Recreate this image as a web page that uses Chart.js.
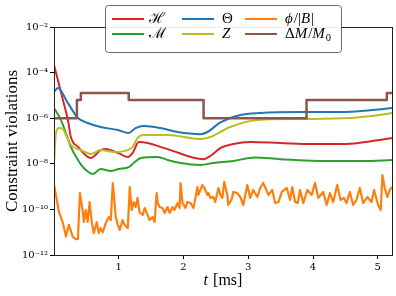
<!DOCTYPE html>
<html><head><meta charset="utf-8">
<script src="https://cdn.jsdelivr.net/npm/chart.js@4.4.1/dist/chart.umd.min.js"></script>
<style>html,body{margin:0;padding:0;background:#fff;}canvas{display:block;}</style>
</head><body>
<canvas id="c" width="396" height="296"></canvas>
<script>
// ---- data ----
const seriesNames = ['ℋ', 'ℳ', 'Θ', 'Z', 'ϕ/|B|', 'ΔM/M₀'];
const yTickValues = [1e-12, 1e-10, 1e-8, 1e-6, 1e-4, 1e-2];
const xTickValues = [1, 2, 3, 4, 5];

const tH = [0, 0.06, 0.138, 0.215, 0.26, 0.37, 0.57, 0.72, 0.80, 0.985, 1.14, 1.215, 1.31, 1.446, 1.646, 1.846, 2.06, 2.31, 2.415, 2.57, 2.77, 3.03, 3.49, 4.0, 4.52, 4.92, 5.22];
const vH = [2.2e-4, 4.7e-5, 6.3e-6, 8.3e-7, 1.5e-7, 5.5e-8, 1.8e-8, 4.0e-8, 4.5e-8, 3.0e-8, 2.0e-8, 3.0e-8, 9.0e-8, 8.2e-8, 5.5e-8, 3.6e-8, 2.2e-8, 1.6e-8, 2.2e-8, 4.9e-8, 7.4e-8, 9.0e-8, 8.2e-8, 7.4e-8, 7.4e-8, 1.0e-7, 1.35e-7];

const tM = [0, 0.108, 0.185, 0.26, 0.37, 0.46, 0.6, 0.72, 0.877, 1.0, 1.154, 1.23, 1.34, 1.6, 1.754, 1.954, 2.26, 2.46, 2.77, 3.1, 3.49, 4.26, 4.77, 5.22];
const vM = [2.8e-6, 8.3e-7, 2.2e-7, 5.5e-8, 1.47e-8, 6.5e-9, 3.6e-9, 5.9e-9, 4.8e-9, 5.9e-9, 7.2e-9, 1.08e-8, 1.8e-8, 2.0e-8, 1.47e-8, 1.08e-8, 8.9e-9, 1.08e-8, 1.33e-8, 1.9e-8, 1.6e-8, 1.33e-8, 1.33e-8, 1.47e-8];

const tTheta = [0, 0.06, 0.215, 0.37, 0.52, 0.72, 0.985, 1.154, 1.26, 1.385, 1.646, 1.908, 2.26, 2.37, 2.57, 2.877, 3.185, 3.8, 4.415, 4.92, 5.22];
const vTheta = [1.41e-5, 2.1e-5, 4.6e-6, 1.02e-6, 6.15e-7, 4.1e-7, 3.03e-7, 2.24e-7, 3.7e-7, 4.55e-7, 3.7e-7, 2.48e-7, 2.0e-7, 2.48e-7, 6.5e-7, 1.38e-6, 1.69e-6, 1.87e-6, 1.87e-6, 2.29e-6, 2.8e-6];

const tZ = [0, 0.03, 0.077, 0.138, 0.185, 0.26, 0.415, 0.57, 0.72, 0.923, 1.14, 1.215, 1.29, 1.385, 1.754, 2.26, 2.415, 2.72, 3.14, 3.8, 4.57, 5.03, 5.22];
const vZ = [1.0e-8, 2.24e-7, 3.7e-7, 3.36e-7, 1.83e-7, 6.7e-8, 4.0e-8, 2.7e-8, 4.0e-8, 3.3e-8, 4.0e-8, 5.5e-8, 1.35e-7, 1.83e-7, 1.83e-7, 1.22e-7, 1.5e-7, 4.1e-7, 8.3e-7, 9.2e-7, 1.02e-6, 1.38e-6, 1.69e-6];

const tPhi = [0, 0.077, 0.138, 0.185, 0.23, 0.29, 0.338, 0.37, 0.40, 0.446,
  0.46, 0.49, 0.52, 0.55, 0.585, 0.615, 0.66, 0.69, 0.72, 0.754,
  0.80, 0.846, 0.877, 0.908, 0.923, 0.954, 0.985, 1.015, 1.06, 1.09,
  1.14, 1.17, 1.2, 1.23, 1.26, 1.29, 1.32, 1.37, 1.4, 1.446,
  1.477, 1.523, 1.554, 1.585, 1.6, 1.63, 1.677, 1.708, 1.754, 1.785,
  1.83, 1.86, 1.908, 1.94, 1.954, 1.985, 2.03, 2.06, 2.108, 2.154,
  2.185, 2.215, 2.23, 2.29, 2.323, 2.37, 2.385, 2.415, 2.46, 2.49,
  2.54, 2.57, 2.6, 2.63, 2.677, 2.69, 2.74, 2.77, 2.83, 2.877,
  2.923, 2.985, 3.03, 3.077, 3.14, 3.185, 3.23, 3.26, 3.31, 3.37,
  3.415, 3.466, 3.518, 3.595, 3.646, 3.68, 3.723, 3.765, 3.8, 3.851,
  3.912, 3.98, 4.031, 4.082, 4.158, 4.211, 4.262, 4.312, 4.374, 4.426,
  4.477, 4.518, 4.569, 4.62, 4.672, 4.723, 4.774, 4.842, 4.903, 4.943,
  5.005, 5.046, 5.072, 5.108, 5.149, 5.185, 5.22];
const vPhi = [1.2e-9, 7.7e-11, 2.5e-11, 6.5e-12, 2.1e-11, 6.2e-12, 5.0e-12, 5.0e-12, 5.2e-10, 7.7e-11,
  2.8e-11, 9.4e-11, 2.8e-11, 2.1e-10, 2.5e-11, 9.2e-12, 2.8e-11, 9.2e-12, 1.5e-11, 1.0e-11,
  2.5e-11, 4.6e-11, 3.4e-11, 1.44e-9, 5.2e-10, 4.6e-11, 2.1e-11, 1.25e-11, 3.4e-11, 2.1e-11,
  1.5e-11, 9.6e-10, 9.4e-11, 2.1e-10, 1.27e-10, 3.2e-10, 7.7e-11, 5.7e-11, 1.15e-10, 5.7e-11,
  3.4e-11, 4.6e-11, 2.8e-11, 5.2e-10, 2.1e-10, 1.27e-10, 1.15e-10, 7.0e-11, 1.27e-10, 7.0e-11,
  1.27e-10, 9.4e-11, 1.9e-10, 1.15e-10, 1.44e-9, 1.9e-10, 1.15e-10, 2.1e-10, 1.9e-10, 1.15e-10,
  3.2e-10, 9.6e-10, 4.3e-10, 1.17e-9, 8.7e-10, 4.3e-10, 5.2e-10, 3.2e-10, 3.5e-10, 2.1e-10,
  8.7e-10, 4.3e-10, 3.2e-10, 1.6e-9, 4.3e-10, 1.56e-10, 2.6e-10, 5.8e-10, 5.2e-10, 3.5e-10,
  1.56e-10, 1.17e-9, 3.2e-10, 7.1e-10, 3.5e-10, 8.7e-10, 1.44e-9, 9.6e-10, 4.3e-10, 7.1e-10,
  1.9e-10, 2.1e-10, 5.8e-10, 8.7e-10, 2.6e-10, 9.6e-10, 2.1e-10, 1.9e-10, 7.1e-10, 1.9e-10,
  7.1e-10, 4.3e-10, 1.44e-9, 3.2e-10, 5.8e-10, 1.56e-10, 5.2e-10, 2.1e-10, 1.17e-9, 2.6e-10,
  3.2e-10, 1.9e-10, 5.8e-10, 1.56e-10, 2.6e-10, 8.7e-10, 1.9e-10, 3.5e-10, 2.1e-10, 7.1e-10,
  1.56e-10, 9.4e-11, 3.2e-9, 8.7e-10, 3.5e-10, 7.1e-10, 9.6e-10];

const tDM = [0, 0.354, 0.415, 1.154, 2.31, 3.90, 5.14, 5.22];
const vDM = [1.0e-6, 6.3e-6, 1.27e-5, 6.3e-6, 1.0e-6, 6.3e-6, 1.27e-5, 1.27e-5];

// ---- helpers ----
const pts = (ts, vs) => ts.map((t, i) => ({x: t, y: vs[i]}));
const SUP = {'0':'⁰','1':'¹','2':'²','3':'³','4':'⁴','5':'⁵','6':'⁶','7':'⁷','8':'⁸','9':'⁹','-':'⁻'};
const powLabel = v => '10' + String(Math.round(Math.log10(v))).split('').map(c => SUP[c]).join('');

const COLORS = ['#d62728', '#2ca02c', '#1f77b4', '#bcbd22', '#ff7f0e', '#8c564b'];
const SERIF = '"Liberation Serif", "DejaVu Serif", serif';

// rich legend labels (segments: text, italic, subscript)
const legendRich = [
  [{t:'ℋ'}],
  [{t:'ℳ'}],
  [{t:'Θ'}],
  [{t:'Z', it:1}],
  [{t:'ϕ', it:1}, {t:'/|'}, {t:'B', it:1}, {t:'|'}],
  [{t:'Δ'}, {t:'M', it:1}, {t:'/'}, {t:'M', it:1}, {t:'0', sub:1}]
];

function drawRich(ctx, segs, x, y, size) {
  let cx = x;
  ctx.textBaseline = 'middle';
  ctx.textAlign = 'left';
  for (const s of segs) {
    const fs = s.sub ? size * 0.7 : size;
    ctx.font = (s.it ? 'italic ' : '') + fs + 'px ' + SERIF;
    ctx.fillText(s.t, cx, y + (s.sub ? size * 0.28 : 0));
    cx += ctx.measureText(s.t).width + (s.it ? 1 : 0);
  }
}

const decorPlugin = {
  id: 'decor',
  afterDatasetsDraw(chart) {
    const {ctx, chartArea: a} = chart;
    ctx.save();
    ctx.strokeStyle = '#222';
    ctx.lineWidth = 1;
    ctx.strokeRect(a.left + 0.5, a.top + 0.5, a.right - a.left, a.bottom - a.top);
    ctx.restore();
  },
  afterDraw(chart) {
    const {ctx, chartArea: a} = chart;
    ctx.save();
    // legend box
    ctx.beginPath();
    ctx.roundRect(105.5, 5.5, 236, 47, 3);
    ctx.fillStyle = 'rgba(255,255,255,0.92)';
    ctx.fill();
    ctx.strokeStyle = '#6a6a6a';
    ctx.lineWidth = 1;
    ctx.stroke();
    const colLine = [112, 182, 245];
    const colText = [149, 222, 285];
    const rowY = [19, 34];
    chart.data.datasets.forEach((ds, i) => {
      const col = Math.floor(i / 2), row = i % 2;
      ctx.beginPath();
      ctx.moveTo(colLine[col], rowY[row]);
      ctx.lineTo(colLine[col] + 32, rowY[row]);
      ctx.strokeStyle = ds.borderColor;
      ctx.lineWidth = 2;
      ctx.stroke();
      ctx.fillStyle = '#000';
      drawRich(ctx, legendRich[i], colText[col], rowY[row], 15);
    });
    // x axis title
    ctx.fillStyle = '#000';
    const cx = (a.left + a.right) / 2;
    const segs = [{t:'t', it:1}, {t:' [ms]'}];
    ctx.font = 'italic 16px ' + SERIF;
    const w1 = ctx.measureText('t').width + 1;
    ctx.font = '16px ' + SERIF;
    const w2 = ctx.measureText(' [ms]').width;
    drawRich(ctx, segs, cx - (w1 + w2) / 2, 281, 16);
    ctx.restore();
  }
};

const mk = (i, ts, vs, extra) => Object.assign({
  label: seriesNames[i], data: pts(ts, vs), borderColor: COLORS[i], backgroundColor: COLORS[i],
  borderWidth: 2, pointRadius: 0, fill: false, cubicInterpolationMode: 'monotone',
  borderJoinStyle: 'round', borderCapStyle: 'butt', order: 5 - i
}, extra || {});

new Chart(document.getElementById('c'), {
  type: 'line',
  data: {
    datasets: [
      mk(0, tH, vH),
      mk(1, tM, vM),
      mk(2, tTheta, vTheta),
      mk(3, tZ, vZ),
      mk(4, tPhi, vPhi, {cubicInterpolationMode: 'default', tension: 0, borderWidth: 2.2}),
      mk(5, tDM, vDM, {stepped: true, borderWidth: 2.5, cubicInterpolationMode: 'default'})
    ]
  },
  options: {
    responsive: false,
    animation: false,
    devicePixelRatio: 1,
    layout: {padding: {top: 27, right: 4, left: 0, bottom: 0}},
    plugins: {legend: {display: false}, tooltip: {enabled: false}},
    scales: {
      x: {
        type: 'linear', min: 0, max: 5.22,
        afterBuildTicks: s => { s.ticks = xTickValues.map(v => ({value: v})); },
        afterFit: s => { s.height = 41; },
        grid: {drawOnChartArea: false, drawTicks: true, tickLength: 4, color: '#000'},
        border: {display: false},
        ticks: {color: '#000', padding: 2, maxRotation: 0, font: {family: '"DejaVu Serif", serif', size: 10}}
      },
      y: {
        type: 'logarithmic', min: 1e-12, max: 1e-2,
        afterBuildTicks: s => { s.ticks = yTickValues.map(v => ({value: v})); },
        afterFit: s => { s.width = 54; },
        grid: {drawOnChartArea: false, drawTicks: true, tickLength: 4, color: '#000'},
        border: {display: false},
        ticks: {color: '#000', padding: 2, font: {family: '"DejaVu Serif", serif', size: 10}, callback: v => powLabel(v)},
        title: {display: true, text: 'Constraint violations', color: '#000', padding: {top: 2, bottom: 0}, font: {family: SERIF, size: 17, weight: 'normal'}}
      }
    }
  },
  plugins: [decorPlugin]
});
</script>
</body></html>
